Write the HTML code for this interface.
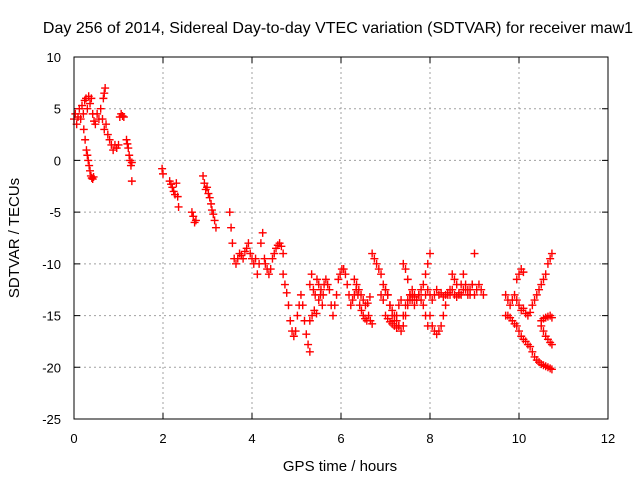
<!DOCTYPE html>
<html><head><meta charset="utf-8"><style>
body{margin:0;background:#fff;}
svg{display:block;font-family:"Liberation Sans",Arial,sans-serif;}
</style></head><body>
<svg id="chart" width="640" height="480">
<rect width="640" height="480" fill="#fff"/>
<text x="338" y="33" font-size="16" text-anchor="middle">Day 256 of 2014, Sidereal Day-to-day VTEC variation (SDTVAR) for receiver maw1</text>
<g id="grid"></g><g id="ticks"></g><g id="marks"></g>
<rect x="74" y="57" width="534" height="362" fill="none" stroke="#000" stroke-width="1"/>
<text x="340" y="471" font-size="15" text-anchor="middle">GPS time / hours</text>
<text transform="translate(19,238) rotate(-90)" font-size="15" text-anchor="middle">SDTVAR / TECUs</text>
</svg>
<script>
const xTicks=[0,2,4,6,8,10,12];
const yTicks=[10,5,0,-5,-10,-15,-20,-25];
const tA=[0,0.03,0.06,0.09,0.12,0.15,0.18,0.21,0.24,0.27,0.3,0.33,0.36,0.39,0.42,0.45,0.48,0.52,0.56,0.6,0.64,0.68,0.72,0.76,0.8,0.84,0.88,0.92,0.96,1.0];
const vA=[4,4.5,3.5,4.2,5,4,5.3,4.5,5.8,6,5,6.2,5.5,6,4.5,3.8,3.5,4.5,4,5,4,3,3.5,2.5,2,1.5,1,1.5,1.2,1.5];
const tB=[0.22,0.25,0.28,0.3,0.32,0.34,0.36,0.38,0.4,0.42,0.44];
const vB=[3,2,1,0.5,0,-0.5,-1,-1.5,-1.7,-1.8,-1.6];
const tC=[0.66,0.68,0.7,1.03,1.06,1.09,1.12,1.18,1.2,1.22,1.24,1.26,1.28,1.3,1.3];
const vC=[6,6.5,7,4.2,4.5,4.3,4.2,2,1.6,1.2,0.5,0,-0.5,-0.2,-2];
const tD=[1.98,2.0,2.15,2.18,2.21,2.24,2.27,2.3,2.33,2.35,2.65,2.68,2.71,2.74,2.9,2.93,2.96,2.99,3.02,3.05,3.08,3.1,3.13,3.16,3.19];
const vD=[-0.8,-1.3,-2,-2.3,-2.6,-3,-3.3,-2.2,-3.5,-4.5,-5,-5.4,-6,-5.8,-1.5,-2.2,-2.8,-2.6,-3.2,-3.6,-4.2,-4.8,-5.2,-5.8,-6.5];
const tE=[3.5,3.53,3.56,3.6,3.64,3.68,3.72,3.76,3.8,3.84,3.88,3.92,3.96,4.0,4.04,4.08,4.12,4.16,4.2,4.24,4.28,4.3,4.34,4.38,4.42,4.46,4.5,4.54,4.58,4.62,4.66,4.7];
const vE=[-5,-6.5,-8,-9.5,-10,-9.5,-9,-9.2,-9.5,-8.8,-8.5,-8,-9,-9.5,-10,-9.5,-11,-10,-8,-7,-9.5,-10,-10.5,-11,-10.5,-9.5,-9,-8.5,-8.2,-8,-8.3,-9];
const tF=[4.7,4.74,4.78,4.82,4.86,4.9,4.94,4.98,5.02,5.06,5.1,5.14,5.18,5.22,5.26,5.3];
const vF=[-11,-12,-12.8,-14,-15.5,-16.5,-17,-16.5,-15,-14,-13,-14,-15.5,-16.8,-17.8,-18.5];
const tG=[5.3,5.34,5.38,5.42,5.46,5.5,5.54,5.58,5.62,5.66,5.7,5.74,5.78,5.82,5.86,5.9,5.94,5.98,6.02,6.06,6.1,6.14,6.18,6.22,6.26,6.3,6.34,6.38,6.42,6.46,6.5,6.54,6.58,6.62,6.66,6.7];
const vG=[-12,-11,-12.5,-13,-11.5,-12,-13,-14,-12,-11.5,-12,-12.5,-14,-15,-14,-13,-11.5,-11,-10.5,-10.5,-11,-12,-13,-14,-13.5,-13,-12.5,-13,-14,-14.5,-15,-15.3,-15.5,-15,-15.5,-15.8];
const tH=[5.3,5.35,5.4,5.45,5.5,5.55,5.6,6.3,6.35,6.4,6.45,6.5,6.55,6.6,6.65];
const vH=[-15.5,-15,-14.5,-14.8,-13.5,-12.5,-13,-11.5,-12,-12.5,-13,-13.5,-14,-13.8,-13.2];
const tI=[6.7,6.75,6.8,6.85,6.9,6.95,7.0,7.05,7.1,7.15,7.2,7.25,7.3,7.35,7.4,7.45,7.5,7.55,7.6,7.65,7.7,7.75,7.8,7.85,7.9,7.95,8.0];
const vI=[-9,-9.5,-10,-10.5,-11,-12,-12.5,-13,-14,-14.5,-15,-15.5,-16,-16.5,-16,-15,-14,-13.5,-13,-13.2,-13.5,-13,-12.5,-12,-11,-10,-9];
const tJ=[6.9,6.95,7.0,7.05,7.1,7.15,7.2,7.25,7.3,7.35,7.4,7.45,7.5,7.55,7.6,7.65,7.7,7.75,7.8,7.85,7.9,7.95];
const vJ=[-13,-13.5,-12.5,-13,-14,-15,-15.5,-15,-14,-13.5,-10,-10.5,-11.5,-13,-13.5,-14,-13.5,-13,-13.5,-14,-15,-16];
const tK=[7.0,7.05,7.1,7.15,7.2,7.25,7.3,7.4,7.45,7.5,7.55,7.6,7.65];
const vK=[-15,-15.3,-15.6,-15.8,-16,-16.2,-16,-15,-14,-13.5,-13,-12.5,-13];
const tL=[8.0,8.05,8.1,8.15,8.2,8.25,8.3,8.35,8.4,8.45,8.5,8.55,8.6,8.65,8.7,8.75,8.8,8.85,8.9,8.95,9.0,9.05,9.1,9.15,9.2];
const vL=[-15,-16,-16.5,-16.8,-16.5,-16,-15,-14,-13,-12.5,-11,-11.5,-12,-13,-12,-11,-12.5,-13,-12.5,-12,-13,-12.5,-12,-12.5,-13];
const tM=[7.9,7.95,8.0,8.05,8.1,8.15,8.2,8.25,8.3,8.35,8.4,8.45,8.5,8.55,8.6,8.65,8.7,8.75,8.8,8.85,8.9,8.95,9.0];
const vM=[-13,-12.5,-13,-13.5,-13,-12.5,-13,-12.8,-13.2,-13,-12.8,-13,-12.5,-13,-13.2,-12.8,-13,-12.5,-12,-12.5,-13,-12,-9];
const tN=[9.7,9.75,9.8,9.85,9.9,9.95,10.0,10.05,10.1,10.15,10.2,10.25,10.3,10.35,10.4,10.45,10.5,10.55,10.6,10.65,10.7,10.74];
const vN=[-15,-15,-15.2,-15.5,-15.8,-16,-16.5,-17,-17.3,-17.5,-17.8,-18,-18.5,-19,-19.3,-19.5,-19.7,-19.8,-19.9,-20,-20.1,-20.2];
const tO=[9.7,9.75,9.8,9.85,9.9,9.95,10.0,10.05,10.1,10.15,10.2,10.25,10.3,10.35,10.4,10.45,10.5,10.55,10.6,10.65,10.7,10.74];
const vO=[-13,-13.5,-14,-13.5,-13,-13.5,-14,-14.5,-14.3,-14.8,-15,-14.7,-14,-13.5,-13,-12.5,-12,-11.5,-11,-10,-9.5,-9];
const tP=[9.95,10.0,10.05,10.1,10.5,10.55,10.6,10.65,10.7,10.74,10.5,10.55,10.6,10.65,10.7,10.74];
const vP=[-11.5,-11,-10.5,-10.8,-15.5,-15.3,-15.2,-15.1,-15,-15.2,-16,-16.5,-17,-17.3,-17.6,-17.8];
const series=[[tA,vA],[tB,vB],[tC,vC],[tD,vD],[tE,vE],[tF,vF],[tG,vG],[tH,vH],[tI,vI],[tJ,vJ],[tK,vK],[tL,vL],[tM,vM],[tN,vN],[tO,vO],[tP,vP]];
const X=t=>74+t*(534/12);
const Y=v=>57+(10-v)*(362/35);
const NS="http://www.w3.org/2000/svg";
const grid=document.getElementById('grid'),ticks=document.getElementById('ticks'),marks=document.getElementById('marks');
function mk(tag,attrs,parent){const e=document.createElementNS(NS,tag);for(const k in attrs)e.setAttribute(k,attrs[k]);parent.appendChild(e);return e;}
xTicks.forEach(t=>{
  if(t>0&&t<12){const g=mk('line',{x1:X(t),x2:X(t),y1:57,y2:419,stroke:'#a0a0a0','stroke-dasharray':'2,3'},grid);
  
  }
  const l=mk('path',{d:`M${X(t)} 419v-6M${X(t)} 57v6`,stroke:'#000'},ticks);
  
  
  const tx=mk('text',{x:X(t),y:443,'font-size':13,'text-anchor':'middle'},ticks);tx.textContent=t;
  
  
});
yTicks.forEach(v=>{
  if(v>-25&&v<10){const g=mk('line',{x1:74,x2:608,y1:Y(v),y2:Y(v),stroke:'#a0a0a0','stroke-dasharray':'2,3'},grid);
  
  }
  const l=mk('path',{d:`M74 ${Y(v)}h6M608 ${Y(v)}h-6`,stroke:'#000'},ticks);
  
  
  const tx=mk('text',{x:61,y:Y(v)+5,'font-size':13,'text-anchor':'end'},ticks);tx.textContent=v;
  
  
});
series.forEach(([ts,vs])=>{
  ts.forEach((t,i)=>{
    const x=X(t),y=Y(vs[i]);
    const p=mk('path',{d:`M${x-4} ${y}h8M${x} ${y-4}v8`,stroke:'#f00','stroke-width':1.4},marks);
    
    
  });
});
</script>
</body></html>
